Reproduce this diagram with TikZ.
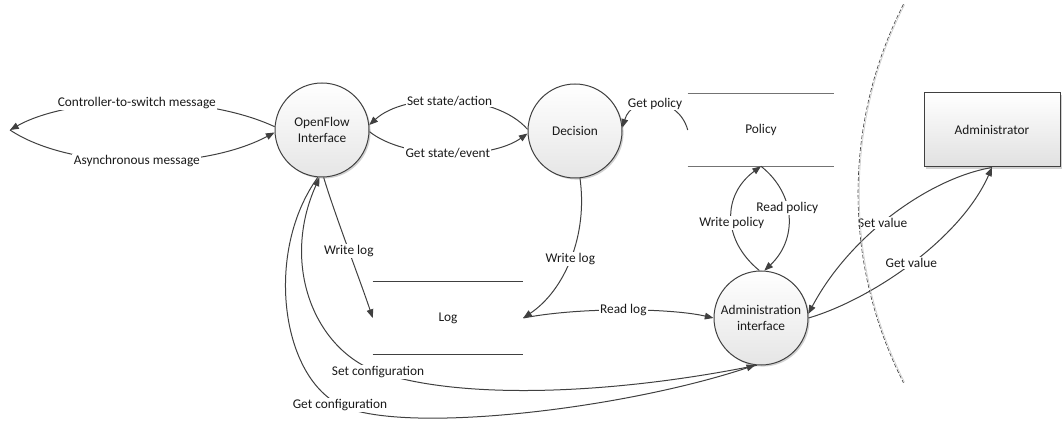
\documentclass[tikz,border=0pt]{standalone}
\usepackage{fontspec}
\setmainfont{Carlito}
\usetikzlibrary{arrows.meta,shadows}
\definecolor{ln}{HTML}{404040}
\definecolor{tx}{HTML}{1A1A1A}
\begin{document}
\begin{tikzpicture}[x=0.75pt,y=-0.75pt,
 font=\fontsize{10}{12}\selectfont, text=tx,
 proc/.style={circle,draw=ln,line width=0.75pt,minimum size=70.5pt,inner sep=0pt,align=center,
   top color=white,bottom color=black!10,
   drop shadow={shadow xshift=1.2pt,shadow yshift=-1.2pt,fill=black!30,opacity=0.6}},
 store/.style={minimum height=54pt,inner sep=0pt},
 ent/.style={rectangle,draw=ln,line width=0.75pt,minimum width=102pt,minimum height=55.5pt,
   top color=white,bottom color=black!12,
   drop shadow={shadow xshift=1.2pt,shadow yshift=-1.2pt,fill=black!30,opacity=0.6}},
 flow/.style={draw=ln,line width=0.75pt,-{Triangle[length=6.5pt,width=5pt]}},
 lbl/.style={fill=white,inner sep=1pt}]
\useasboundingbox (0,0) rectangle (1062,423);

% nodes
\node[proc] (ofi) at (322,130) {OpenFlow\\Interface};
\node[proc] (dec) at (575,131) {Decision};
\node[proc] (adm) at (761,318) {Administration\\interface};
\node[store,minimum width=109.5pt] (pol) at (761,130) {Policy};
\draw[black!55,line width=1pt] (pol.north west) -- (pol.north east) (pol.south west) -- (pol.south east);
\node[store,minimum width=112.5pt] (log) at (448,318) {Log};
\draw[ln,line width=0.6pt] (log.north west) -- (log.north east) (log.south west) -- (log.south east);
\node[ent] (adb) at (992,130) {Administrator};
\coordinate (L) at (10,130);

% switch messages
\draw[flow] (ofi.176) .. controls (200,92) and (70,96) .. (L)
  node[lbl,pos=0.5] {Controller-to-switch message};
\draw[flow] (L) .. controls (70,170) and (200,172) .. (ofi.183)
  node[lbl,pos=0.5] {Asynchronous message};

% openflow <-> decision
\draw[flow] (dec.178) .. controls (495,92) and (405,92) .. (ofi.6)
  node[lbl,pos=0.5] {Set state/action};
\draw[flow] (ofi.-2) .. controls (405,160) and (490,160) .. (dec.183)
  node[lbl,pos=0.5] {Get state/event};

% policy -> decision
\draw[flow] (pol.west) .. controls (678,95) and (632,95) .. (dec.4)
  node[lbl,pos=0.5] {Get policy};

% policy <-> administration
\draw[flow] (adm.92) .. controls (722,240) and (722,195) .. (pol.south)
  node[lbl,pos=0.45] {Write policy};
\draw[flow] (pol.south) .. controls (797,195) and (797,240) .. (adm.86)
  node[lbl,pos=0.41] {Read policy};

% logs
\draw[flow] (ofi.-88) .. controls (335,215) and (360,280) .. (log.west)
  node[lbl,pos=0.52] {Write log};
\draw[flow] (dec.-84) .. controls (588,235) and (565,290) .. (log.east)
  node[lbl,pos=0.5] {Write log};
\draw[flow] (log.east) .. controls (580,307) and (670,308) .. (adm.180)
  node[lbl,pos=0.5] {Read log};

% configuration
\draw[flow] (adm.-95) .. controls (610,395) and (460,400) .. (378,372)
  node[lbl] {Set configuration}
  .. controls (315,350) and (280,265) .. (ofi.-93);
\draw[flow] (ofi.-95) .. controls (265,250) and (280,375) .. (340,405)
  node[lbl] {Get configuration}
  .. controls (400,435) and (620,410) .. (adm.-97);

% administrator
\draw[flow] (adb.south) .. controls (930,178) and (850,235) .. (adm.5)
  node[lbl,pos=0.55] {Set value};
\draw[flow] (adm.0) .. controls (870,300) and (960,240) .. (adb.south)
  node[lbl,pos=0.5] {Get value};

% boundary
\draw[black!20,line width=0.5pt] plot[domain=153:207,samples=80] ({1275+415.8*cos(\x)},{193.5-415.8*sin(\x)});
\draw[ln,line width=0.45pt,dash pattern=on 3pt off 1.5pt] plot[domain=153:207,samples=80] ({1275+417*cos(\x)},{193.5-417*sin(\x)});
\end{tikzpicture}
\end{document}
